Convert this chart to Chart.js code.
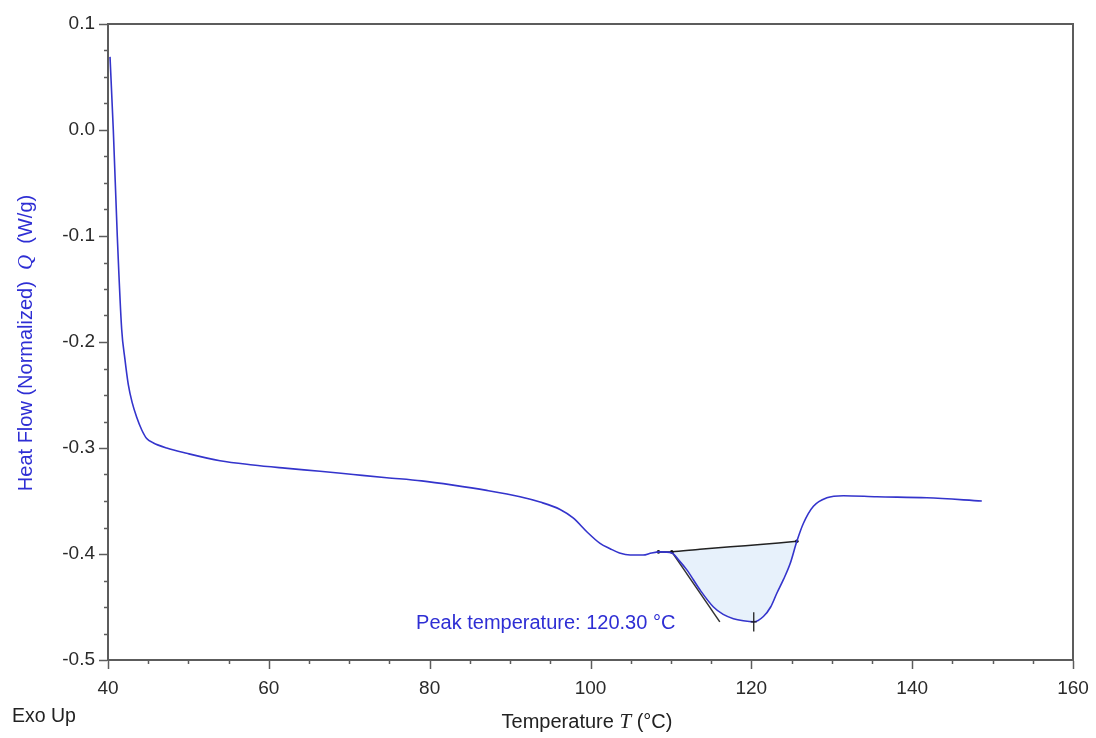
<!DOCTYPE html>
<html>
<head>
<meta charset="utf-8">
<script src="https://cdn.jsdelivr.net/npm/chart.js@4.4.1/dist/chart.umd.min.js"></script>
<style>
  html, body { margin: 0; padding: 0; background: #ffffff; }
  #wrap { width: 1096px; height: 738px; position: relative; }
</style>
</head>
<body>
<div id="wrap"><canvas id="c" width="1096" height="738"></canvas></div>
<script>
// ---- Data ----
const temperatureC = [40.25, 40.66, 41.16, 41.70, 42.10, 42.52, 43.0, 43.57, 44.2, 44.81, 45.6, 47.30, 49.79, 53.93, 58.03, 62.0, 66.37, 70.5, 74.66, 79.0, 82.91, 87.10, 91.24, 93.73, 96.22, 97.84, 99.54, 101.19, 102.44, 103.6, 104.93, 106.54, 107.6, 108.66, 110.11, 111.0, 111.98, 113.63, 115.29, 116.5, 117.77, 119.0, 120.30, 121.50, 122.4, 123.17, 124.0, 124.83, 125.66, 126.48, 127.72, 129.39, 131.45, 135.60, 141.82, 148.66];
const heatFlow = [0.069, 0.0, -0.101, -0.188, -0.216, -0.240, -0.257, -0.271, -0.283, -0.291, -0.295, -0.300, -0.305, -0.312, -0.316, -0.319, -0.322, -0.325, -0.328, -0.331, -0.335, -0.340, -0.346, -0.351, -0.358, -0.366, -0.379, -0.390, -0.395, -0.399, -0.401, -0.401, -0.399, -0.398, -0.399, -0.406, -0.415, -0.434, -0.450, -0.457, -0.461, -0.463, -0.464, -0.459, -0.450, -0.437, -0.424, -0.409, -0.388, -0.371, -0.355, -0.347, -0.345, -0.346, -0.347, -0.350];

const baselineT = [108.45, 110.11, 113.6, 117.4, 121.1, 125.66];
const baselineQ = [-0.398, -0.398, -0.3955, -0.3932, -0.391, -0.388];

const tangentT = [110.11, 116.08];
const tangentQ = [-0.398, -0.464];

const peakT = 120.30;
const peakQ = -0.464;
const peakMarkQ = [-0.455, -0.473];
const peakLabel = 'Peak temperature: 120.30 °C';

const xTickValues = [40, 60, 80, 100, 120, 140, 160];
const xTickLabels = ['40', '60', '80', '100', '120', '140', '160'];
const yTickValues = [-0.5, -0.4, -0.3, -0.2, -0.1, 0.0, 0.1];
const yTickLabels = ['-0.5', '-0.4', '-0.3', '-0.2', '-0.1', '0.0', '0.1'];
const xMinorStep = 5;
const yMinorStep = 0.025;

// ---- Derived structures ----
const pts = (xs, ys) => xs.map((x, i) => ({ x: x, y: ys[i] }));
const curvePts = pts(temperatureC, heatFlow);
const tStart = baselineT[1], tEnd = baselineT[baselineT.length - 1];
const areaPts = curvePts.filter(p => p.x >= tStart && p.x <= tEnd)
  .concat(pts(baselineT.slice(1), baselineQ.slice(1)).reverse());

const FONT = '"Liberation Sans", Arial, sans-serif';
const SERIF = '"Liberation Serif", "Times New Roman", serif';
const BLUE_TEXT = '#2e2ed4';

function drawMixed(ctx, parts, cx, cy) {
  let total = 0;
  parts.forEach(p => { ctx.font = p.f; p.w = ctx.measureText(p.t).width; total += p.w; });
  let x = cx - total / 2;
  ctx.textAlign = 'left';
  ctx.textBaseline = 'middle';
  parts.forEach(p => { ctx.font = p.f; ctx.fillStyle = p.c; ctx.fillText(p.t, x, cy); x += p.w; });
}

const framePlugin = {
  id: 'frame',
  afterDraw(chart) {
    const ctx = chart.ctx;
    const { left, right, top, bottom } = chart.chartArea;
    const xs = chart.scales.x, ys = chart.scales.y;
    ctx.save();
    // box
    ctx.strokeStyle = '#5c5c5c';
    ctx.lineWidth = 2;
    ctx.strokeRect(left, top, right - left, bottom - top);
    // x ticks
    ctx.lineWidth = 1.5;
    for (let v = xs.min; v <= xs.max + 1e-9; v += xMinorStep) {
      const px = Math.round(xs.getPixelForValue(v)) + 0.5;
      const major = xTickValues.some(t => Math.abs(t - v) < 1e-9);
      const len = major ? 8 : 3;
      ctx.beginPath(); ctx.moveTo(px, bottom + 1); ctx.lineTo(px, bottom + 1 + len); ctx.stroke();
    }
    // y ticks
    const n = Math.round((ys.max - ys.min) / yMinorStep);
    for (let k = 0; k <= n; k++) {
      const v = ys.min + k * yMinorStep;
      const py = Math.round(ys.getPixelForValue(v)) + 0.5;
      const major = yTickValues.some(t => Math.abs(t - v) < 1e-9);
      const len = major ? 8 : 3;
      ctx.beginPath(); ctx.moveTo(left - 1, py); ctx.lineTo(left - 1 - len, py); ctx.stroke();
    }
    // peak marker
    const ppx = xs.getPixelForValue(peakT);
    ctx.strokeStyle = '#222';
    ctx.lineWidth = 1.3;
    ctx.beginPath();
    ctx.moveTo(ppx, ys.getPixelForValue(peakMarkQ[0]));
    ctx.lineTo(ppx, ys.getPixelForValue(peakMarkQ[1]));
    const ppy = ys.getPixelForValue(peakQ);
    ctx.moveTo(ppx - 3, ppy); ctx.lineTo(ppx + 3, ppy);
    ctx.stroke();
    // peak label
    ctx.font = '20px ' + FONT;
    ctx.fillStyle = BLUE_TEXT;
    ctx.textAlign = 'right';
    ctx.textBaseline = 'middle';
    ctx.fillText(peakLabel, xs.getPixelForValue(110.55), ys.getPixelForValue(-0.4655));
    // x title
    drawMixed(ctx, [
      { t: 'Temperature ', f: '20px ' + FONT, c: '#222' },
      { t: 'T', f: 'italic 21px ' + SERIF, c: '#222' },
      { t: ' (°C)', f: '20px ' + FONT, c: '#222' }
    ], 587, 722);
    // y title
    ctx.save();
    ctx.translate(26, 343);
    ctx.rotate(-Math.PI / 2);
    drawMixed(ctx, [
      { t: 'Heat Flow (Normalized)  ', f: '20px ' + FONT, c: BLUE_TEXT },
      { t: 'Q', f: 'italic 21px ' + SERIF, c: BLUE_TEXT },
      { t: '  (W/g)', f: '20px ' + FONT, c: BLUE_TEXT }
    ], 0, 0);
    ctx.restore();
    // Exo Up
    ctx.font = '19.5px ' + FONT;
    ctx.fillStyle = '#222';
    ctx.textAlign = 'left';
    ctx.textBaseline = 'middle';
    ctx.fillText('Exo Up', 12, 717);
    ctx.restore();
  }
};

new Chart(document.getElementById('c'), {
  type: 'scatter',
  data: {
    datasets: [
      {
        label: 'area',
        data: areaPts,
        showLine: true,
        fill: 'shape',
        backgroundColor: '#e7f1fb',
        borderWidth: 0,
        borderColor: 'rgba(0,0,0,0)',
        pointRadius: 0,
        tension: 0,
        order: 10
      },
      {
        label: 'baseline',
        data: pts(baselineT, baselineQ),
        showLine: true,
        borderColor: '#222',
        borderWidth: 1.5,
        pointRadius: [1.8, 1.8, 0, 0, 0, 1.8],
        pointBackgroundColor: '#111',
        pointBorderWidth: 0,
        tension: 0.3,
        order: 2
      },
      {
        label: 'tangent',
        data: pts(tangentT, tangentQ),
        showLine: true,
        borderColor: '#333',
        borderWidth: 1.5,
        pointRadius: 0,
        order: 3
      },
      {
        label: 'Heat Flow',
        data: curvePts,
        showLine: true,
        borderColor: '#3434cc',
        borderWidth: 1.6,
        pointRadius: 0,
        cubicInterpolationMode: 'monotone',
        order: 1
      }
    ]
  },
  options: {
    responsive: false,
    animation: false,
    events: [],
    layout: { padding: { left: 0, top: 24, right: 23, bottom: 0 } },
    plugins: { legend: { display: false }, tooltip: { enabled: false } },
    scales: {
      x: {
        type: 'linear',
        min: 40, max: 160,
        afterFit(s) { s.height = 78; s.paddingLeft = 0; s.paddingRight = 0; },
        afterBuildTicks(s) { s.ticks = xTickValues.map(v => ({ value: v })); },
        grid: { display: false, drawTicks: false },
        border: { display: false },
        ticks: {
          padding: 17,
          color: '#2a2a2a',
          font: { family: FONT, size: 19 },
          maxRotation: 0,
          autoSkip: false,
          callback: (v) => { const i = xTickValues.findIndex(t => Math.abs(t - v) < 1e-9); return i >= 0 ? xTickLabels[i] : ''; }
        }
      },
      y: {
        type: 'linear',
        min: -0.5, max: 0.1,
        afterFit(s) { s.width = 108; s.paddingTop = 0; s.paddingBottom = 0; },
        afterBuildTicks(s) { s.ticks = yTickValues.map(v => ({ value: v })); },
        grid: { display: false, drawTicks: false },
        border: { display: false },
        ticks: {
          padding: 13,
          color: '#2a2a2a',
          font: { family: FONT, size: 19 },
          autoSkip: false,
          callback: (v) => { const i = yTickValues.findIndex(t => Math.abs(t - v) < 1e-9); return i >= 0 ? yTickLabels[i] : ''; }
        }
      }
    }
  },
  plugins: [framePlugin]
});
</script>
</body>
</html>
